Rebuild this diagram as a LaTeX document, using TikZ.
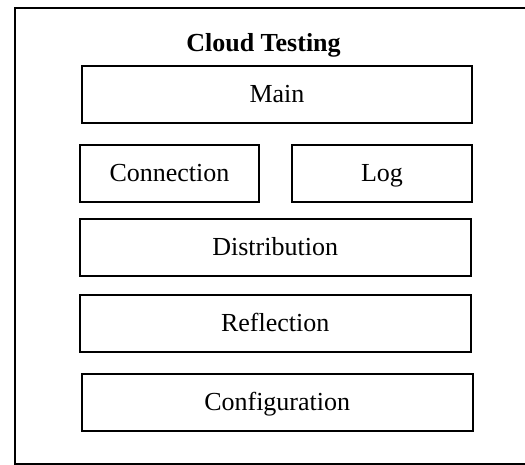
\documentclass[tikz,border=0pt]{standalone}
\usepackage{fontspec}
\setmainfont{Liberation Serif}
\begin{document}
\begin{tikzpicture}[x=1pt,y=-1pt,
  module/.style={draw=black,line width=1.8pt,inner sep=0pt,
    text height=18pt,text depth=2pt,
    font=\fontsize{26}{30}\selectfont},
  heading/.style={inner sep=0pt,anchor=base,
    font=\fontsize{26}{30}\selectfont\bfseries}]
  % page area
  \useasboundingbox (0,0) rectangle (525,464);
  \clip (0,0) rectangle (525,464);
  % outer frame: left, top and bottom sides, running off the page to the right
  \draw[line width=2.4pt] (600,8) -| (15.2,463.8) -- (600,463.8);
  % title
  \node[heading] (title) at (263.5,51) {Cloud Testing};
  % modules
  \node[module,minimum width=390.6pt,minimum height=57.3pt] (main) at (277,94.7) {Main};
  \node[module,minimum width=179.6pt,minimum height=57pt] (conn) at (169.5,173.5) {Connection};
  \node[module,minimum width=180.6pt,minimum height=57pt] (log) at (382,173.5) {Log};
  \node[module,minimum width=391pt,minimum height=56.4pt] (dist) at (275.2,247.5) {Distribution};
  \node[module,minimum width=391pt,minimum height=56.7pt] (refl) at (275.2,323.7) {Reflection};
  \node[module,minimum width=391pt,minimum height=57pt] (conf) at (277.2,402.2) {Configuration};
\end{tikzpicture}
\end{document}
